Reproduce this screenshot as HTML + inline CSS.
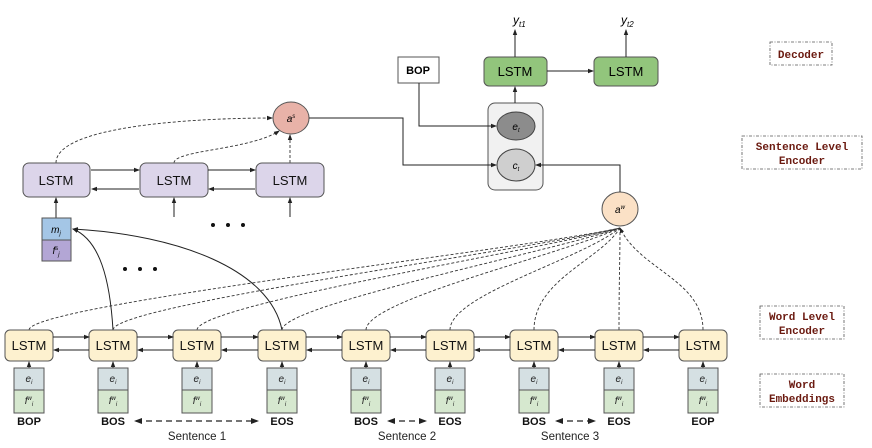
<!DOCTYPE html>
<html><head><meta charset="utf-8"><style>
html,body{margin:0;padding:0;background:#fff;}
svg{display:block;font-family:"Liberation Sans",sans-serif;}
.m{font-family:"Liberation Mono",monospace;font-weight:bold;fill:#6b1a10;font-size:11px;}
</style></head><body>
<svg width="872" height="448" viewBox="0 0 872 448" xmlns="http://www.w3.org/2000/svg">
<defs>
<marker id="a" markerWidth="6" markerHeight="6" refX="5" refY="3" orient="auto" markerUnits="userSpaceOnUse"><path d="M0,0.8 L6,3 L0,5.2z" fill="#222"/></marker>
</defs>
<!-- dashed word-level curves -->
<g fill="none" stroke="#333" stroke-width="0.9" stroke-dasharray="3,2">
<path d="M29 330 C29 305,520 250,620 228"/>
<path d="M113 330 C113 305,530 250,620 228"/>
<path d="M197 330 C197 305,540 250,620 228"/>
<path d="M282 330 C282 305,550 252,620 228"/>
<path d="M366 330 C366 300,560 255,620 228"/>
<path d="M450 330 C450 295,580 260,620 228"/>
<path d="M534 330 C534 280,600 260,620 228"/>
<path d="M619 330 C619 280,620 260,620 228"/>
<path d="M703 330 C703 280,640 270,620 228" marker-end="url(#a)"/>
<!-- sentence-level dashed -->
<path d="M56 163 C56 125,200 118,272 118" marker-end="url(#a)"/>
<path d="M174 163 C174 150,250 150,279 131" marker-end="url(#a)"/>
<path d="M290 163 L290 135" marker-end="url(#a)"/>
</g>
<!-- solid curves to m_j -->
<g fill="none" stroke="#222" stroke-width="1">
<path d="M113 330 C110 280,100 240,73 229" marker-end="url(#a)"/>
<path d="M282 330 C270 270,180 235,73 229" marker-end="url(#a)"/>
</g>
<!-- word LSTMs -->
<g font-size="13" text-anchor="middle">
<g id="w">
</g>
</g>
<g stroke="#555" stroke-width="1" fill="#fdf1cf">
<rect x="5" y="330" width="48" height="31" rx="5"/>
<rect x="89" y="330" width="48" height="31" rx="5"/>
<rect x="173" y="330" width="48" height="31" rx="5"/>
<rect x="258" y="330" width="48" height="31" rx="5"/>
<rect x="342" y="330" width="48" height="31" rx="5"/>
<rect x="426" y="330" width="48" height="31" rx="5"/>
<rect x="510" y="330" width="48" height="31" rx="5"/>
<rect x="595" y="330" width="48" height="31" rx="5"/>
<rect x="679" y="330" width="48" height="31" rx="5"/>
</g>
<g font-size="13" text-anchor="middle" fill="#111">
<text x="29" y="350">LSTM</text><text x="113" y="350">LSTM</text><text x="197" y="350">LSTM</text>
<text x="282" y="350">LSTM</text><text x="366" y="350">LSTM</text><text x="450" y="350">LSTM</text>
<text x="534" y="350">LSTM</text><text x="619" y="350">LSTM</text><text x="703" y="350">LSTM</text>
</g>
<!-- horizontal arrows between word LSTMs -->
<g stroke="#222" stroke-width="1" marker-end="url(#a)">
<path d="M53 337 L89 337"/><path d="M89 350 L54 350"/>
<path d="M137 337 L173 337"/><path d="M173 350 L138 350"/>
<path d="M221 337 L258 337"/><path d="M258 350 L222 350"/>
<path d="M306 337 L342 337"/><path d="M342 350 L307 350"/>
<path d="M390 337 L426 337"/><path d="M426 350 L391 350"/>
<path d="M474 337 L510 337"/><path d="M510 350 L475 350"/>
<path d="M558 337 L595 337"/><path d="M595 350 L559 350"/>
<path d="M643 337 L679 337"/><path d="M679 350 L644 350"/>
<path d="M29 368 L29 362"/><path d="M113 368 L113 362"/><path d="M197 368 L197 362"/>
<path d="M282 368 L282 362"/><path d="M366 368 L366 362"/><path d="M450 368 L450 362"/>
<path d="M534 368 L534 362"/><path d="M619 368 L619 362"/><path d="M703 368 L703 362"/>
</g>
<!-- embeddings -->
<g stroke="#555" stroke-width="1">
<g fill="#d5e0e3">
<rect x="14" y="368" width="30" height="22"/><rect x="98" y="368" width="30" height="22"/><rect x="182" y="368" width="30" height="22"/>
<rect x="267" y="368" width="30" height="22"/><rect x="351" y="368" width="30" height="22"/><rect x="435" y="368" width="30" height="22"/>
<rect x="519" y="368" width="30" height="22"/><rect x="604" y="368" width="30" height="22"/><rect x="688" y="368" width="30" height="22"/>
</g>
<g fill="#d6e8cf">
<rect x="14" y="390" width="30" height="23"/><rect x="98" y="390" width="30" height="23"/><rect x="182" y="390" width="30" height="23"/>
<rect x="267" y="390" width="30" height="23"/><rect x="351" y="390" width="30" height="23"/><rect x="435" y="390" width="30" height="23"/>
<rect x="519" y="390" width="30" height="23"/><rect x="604" y="390" width="30" height="23"/><rect x="688" y="390" width="30" height="23"/>
</g>
</g>
<g font-size="10" font-style="italic" text-anchor="middle" fill="#222">
<text x="29" y="382">e<tspan font-size="6" dy="2">i</tspan></text><text x="113" y="382">e<tspan font-size="6" dy="2">i</tspan></text><text x="197" y="382">e<tspan font-size="6" dy="2">i</tspan></text>
<text x="282" y="382">e<tspan font-size="6" dy="2">i</tspan></text><text x="366" y="382">e<tspan font-size="6" dy="2">i</tspan></text><text x="450" y="382">e<tspan font-size="6" dy="2">i</tspan></text>
<text x="534" y="382">e<tspan font-size="6" dy="2">i</tspan></text><text x="619" y="382">e<tspan font-size="6" dy="2">i</tspan></text><text x="703" y="382">e<tspan font-size="6" dy="2">i</tspan></text>
<text x="29" y="404">f<tspan font-size="6" dy="-4">w</tspan><tspan font-size="6" dy="6">i</tspan></text><text x="113" y="404">f<tspan font-size="6" dy="-4">w</tspan><tspan font-size="6" dy="6">i</tspan></text><text x="197" y="404">f<tspan font-size="6" dy="-4">w</tspan><tspan font-size="6" dy="6">i</tspan></text>
<text x="282" y="404">f<tspan font-size="6" dy="-4">w</tspan><tspan font-size="6" dy="6">i</tspan></text><text x="366" y="404">f<tspan font-size="6" dy="-4">w</tspan><tspan font-size="6" dy="6">i</tspan></text><text x="450" y="404">f<tspan font-size="6" dy="-4">w</tspan><tspan font-size="6" dy="6">i</tspan></text>
<text x="534" y="404">f<tspan font-size="6" dy="-4">w</tspan><tspan font-size="6" dy="6">i</tspan></text><text x="619" y="404">f<tspan font-size="6" dy="-4">w</tspan><tspan font-size="6" dy="6">i</tspan></text><text x="703" y="404">f<tspan font-size="6" dy="-4">w</tspan><tspan font-size="6" dy="6">i</tspan></text>
</g>
<g font-size="11" font-weight="bold" text-anchor="middle" fill="#111">
<text x="29" y="425">BOP</text><text x="113" y="425">BOS</text><text x="282" y="425">EOS</text>
<text x="366" y="425">BOS</text><text x="450" y="425">EOS</text><text x="534" y="425">BOS</text>
<text x="619" y="425">EOS</text><text x="703" y="425">EOP</text>
</g>
<g font-size="11.5" text-anchor="middle" fill="#222">
<text x="197" y="440">Sentence 1</text><text x="407" y="440">Sentence 2</text><text x="570" y="440">Sentence 3</text>
</g>
<g stroke="#222" stroke-width="1.2" stroke-dasharray="6,4" fill="none">
<path d="M136 421 L257 421"/><path d="M389 421 L425 421"/><path d="M557 421 L594 421"/>
</g>
<g fill="#222">
<path d="M134 421 L142 418 L142 424z"/><path d="M259 421 L251 418 L251 424z"/>
<path d="M387 421 L395 418 L395 424z"/><path d="M427 421 L419 418 L419 424z"/>
<path d="M555 421 L563 418 L563 424z"/><path d="M596 421 L588 418 L588 424z"/>
</g>
<!-- sentence level -->
<g stroke="#555" stroke-width="1" fill="#dcd5ea">
<rect x="23" y="163" width="67" height="34" rx="6"/>
<rect x="140" y="163" width="68" height="34" rx="6"/>
<rect x="256" y="163" width="68" height="34" rx="6"/>
</g>
<g font-size="13" text-anchor="middle" fill="#111">
<text x="56" y="185">LSTM</text><text x="174" y="185">LSTM</text><text x="290" y="185">LSTM</text>
</g>
<g stroke="#222" stroke-width="1" marker-end="url(#a)">
<path d="M91 170 L139 170"/><path d="M139 189 L92 189"/>
<path d="M208 170 L255 170"/><path d="M255 189 L209 189"/>
<path d="M56 218 L56 198"/><path d="M174 217 L174 198"/><path d="M290 217 L290 198"/>
</g>
<rect x="42" y="218" width="29" height="22" fill="#a4c6e6" stroke="#555"/>
<rect x="42" y="240" width="29" height="21" fill="#b3a6d5" stroke="#555"/>
<text x="56" y="233" font-size="10" font-style="italic" text-anchor="middle">m<tspan font-size="6" dy="2">j</tspan></text>
<text x="56" y="254" font-size="10" font-style="italic" text-anchor="middle">f<tspan font-size="6" dy="-4">s</tspan><tspan font-size="6" dy="6">j</tspan></text>
<g fill="#111">
<circle cx="213" cy="225" r="2"/><circle cx="228" cy="225" r="2"/><circle cx="243" cy="225" r="2"/>
<circle cx="125" cy="269" r="2"/><circle cx="140" cy="269" r="2"/><circle cx="155" cy="269" r="2"/>
</g>
<ellipse cx="291" cy="118" rx="18" ry="16" fill="#e8b2a8" stroke="#555"/>
<text x="291" y="122" font-size="10" font-style="italic" text-anchor="middle">a<tspan font-size="6" dy="-4">s</tspan></text>
<!-- decoder -->
<rect x="488" y="103" width="55" height="87" rx="7" fill="#f1f1f1" stroke="#555"/>
<ellipse cx="516" cy="126" rx="19" ry="14" fill="#8c8c8c" stroke="#444"/>
<ellipse cx="516" cy="165" rx="19" ry="16" fill="#cfcfcf" stroke="#444"/>
<text x="516" y="130" font-size="10" font-style="italic" text-anchor="middle">e<tspan font-size="6" dy="2">t</tspan></text>
<text x="516" y="169" font-size="10" font-style="italic" text-anchor="middle">c<tspan font-size="6" dy="2">t</tspan></text>
<rect x="398" y="57" width="41" height="26" fill="#fff" stroke="#555"/>
<text x="418" y="74" font-size="11" font-weight="bold" text-anchor="middle">BOP</text>
<rect x="484" y="57" width="63" height="29" rx="5" fill="#92c57c" stroke="#555"/>
<rect x="594" y="57" width="64" height="29" rx="5" fill="#92c57c" stroke="#555"/>
<text x="515" y="76" font-size="13" text-anchor="middle">LSTM</text>
<text x="626" y="76" font-size="13" text-anchor="middle">LSTM</text>
<ellipse cx="620" cy="209" rx="18" ry="17" fill="#fbe1c6" stroke="#555"/>
<text x="620" y="213" font-size="10" font-style="italic" text-anchor="middle">a<tspan font-size="6" dy="-4">w</tspan></text>
<g stroke="#222" stroke-width="1" fill="none" marker-end="url(#a)">
<path d="M309 118 L403 118 L403 165 L496 165"/>
<path d="M419 83 L419 126 L496 126"/>
<path d="M620 192 L620 165 L536 165"/>
<path d="M515 103 L515 87"/>
<path d="M547 71 L593 71"/>
<path d="M515 57 L515 30"/>
<path d="M626 57 L626 30"/>
</g>
<text x="513" y="24" font-size="12" font-style="italic">y<tspan font-size="8" dy="3">t1</tspan></text>
<text x="621" y="24" font-size="12" font-style="italic">y<tspan font-size="8" dy="3">t2</tspan></text>
<!-- right labels -->
<g fill="none" stroke="#555" stroke-width="0.8" stroke-dasharray="3,1.5,1,1.5">
<rect x="770" y="42" width="62" height="23"/>
<rect x="742" y="136" width="120" height="33"/>
<rect x="760" y="306" width="84" height="33"/>
<rect x="760" y="374" width="84" height="33"/>
</g>
<g class="m" text-anchor="middle">
<text x="801" y="58">Decoder</text>
<text x="802" y="150">Sentence Level</text><text x="802" y="164">Encoder</text>
<text x="802" y="320">Word Level</text><text x="802" y="334">Encoder</text>
<text x="802" y="388">Word</text><text x="802" y="402">Embeddings</text>
</g>
</svg>
</body></html>
